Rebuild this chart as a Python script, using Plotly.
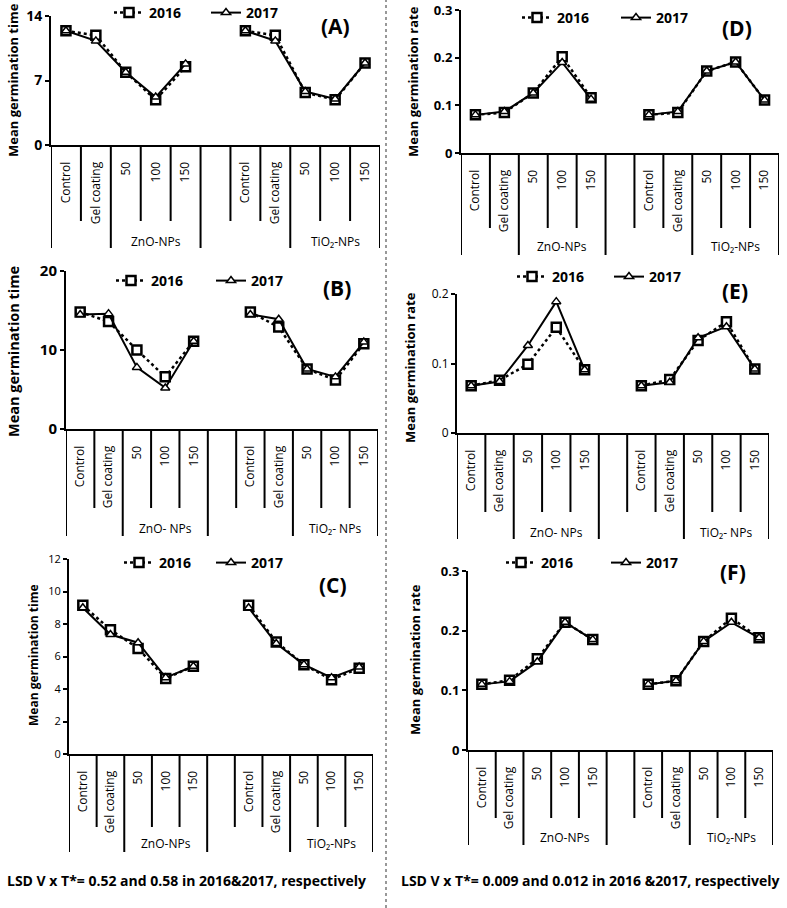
import plotly.graph_objects as go

W, H = 787, 908

# ---------------- data ----------------
CATS = ["Control", "Gel coating", "50", "100", "150", "",
        "Control", "Gel coating", "50", "100", "150"]
X = list(range(len(CATS)))

A_2016 = [12.4, 11.9, 7.9, 4.9, 8.5, None, 12.4, 11.9, 5.7, 4.9, 8.9]
A_2017 = [12.4, 11.3, 7.9, 5.2, 8.8, None, 12.4, 11.3, 5.8, 5.0, 8.9]

B_2016 = [14.8, 13.6, 10.0, 6.6, 11.1, None, 14.8, 12.9, 7.6, 6.2, 10.8]
B_2017 = [14.5, 14.6, 7.8, 5.2, 11.1, None, 14.5, 13.9, 7.6, 6.6, 11.0]

C_2016 = [9.15, 7.65, 6.5, 4.65, 5.4, None, 9.15, 6.9, 5.5, 4.57, 5.28]
C_2017 = [9.0, 7.35, 6.85, 4.7, 5.4, None, 9.0, 6.8, 5.5, 4.7, 5.35]

D_2016 = [0.080, 0.085, 0.126, 0.202, 0.116, None, 0.080, 0.085, 0.172, 0.191, 0.111]
D_2017 = [0.080, 0.087, 0.126, 0.190, 0.113, None, 0.080, 0.087, 0.172, 0.191, 0.111]

E_2016 = [0.068, 0.076, 0.099, 0.152, 0.091, None, 0.068, 0.077, 0.133, 0.160, 0.092]
E_2017 = [0.068, 0.074, 0.126, 0.189, 0.091, None, 0.068, 0.073, 0.137, 0.153, 0.092]

F_2016 = [0.110, 0.117, 0.153, 0.214, 0.185, None, 0.110, 0.116, 0.182, 0.221, 0.188]
F_2017 = [0.110, 0.115, 0.148, 0.214, 0.185, None, 0.110, 0.116, 0.182, 0.214, 0.188]

GROUPS_1 = ["ZnO-NPs", "TiO₂-NPs"]
GROUPS_2 = ["ZnO- NPs", "TiO₂- NPs"]

LSD_LEFT = "LSD V x T*= 0.52 and 0.58 in 2016&2017, respectively"
LSD_RIGHT = "LSD V x T*= 0.009 and 0.012 in 2016 &2017, respectively"

# ---------------- layout helpers ----------------
def P(px):
    return px / W

def Q(py):
    return 1 - py / H

FONT = "Open Sans"

# lt: pixel x where first legend text starts, lsp: spacing between the two legend texts
panels = [
    dict(tag="(A)", d16=A_2016, d17=A_2017, ymax=14, dtick=7, x0=51, x1=380, ytop=16, ybot=145,
         short=221, long=248, gy=242, lt=150, lsp=97, ly=13, lab=(335, 26), tx=13, ty=80,
         tbold=True, tsize=14, ttl="Mean germination time", ttlsize=13, groups=GROUPS_1),
    dict(tag="(B)", d16=B_2016, d17=B_2017, ymax=20, dtick=10, x0=66, x1=378, ytop=271, ybot=429,
         short=508, long=536, gy=528, lt=152, lsp=100, ly=281, lab=(337, 288), tx=13, ty=352,
         tbold=True, tsize=15, ttl="Mean germination time", ttlsize=14.5, groups=GROUPS_2),
    dict(tag="(C)", d16=C_2016, d17=C_2017, ymax=12, dtick=2, x0=69, x1=373, ytop=559, ybot=754,
         short=827, long=852, gy=843, lt=160, lsp=92, ly=563, lab=(333, 585), tx=33, ty=655,
         tbold=False, tsize=11, ttl="Mean germination time", ttlsize=12, groups=GROUPS_1),
    dict(tag="(D)", d16=D_2016, d17=D_2017, ymax=0.3, dtick=0.1, x0=461, x1=779, ytop=10, ybot=153,
         short=228, long=255, gy=247, lt=558, lsp=99, ly=18, lab=(737, 28), tx=413, ty=82,
         tbold=True, tsize=13, ttl="Mean germination rate", ttlsize=13, groups=GROUPS_1),
    dict(tag="(E)", d16=E_2016, d17=E_2017, ymax=0.2, dtick=0.1, x0=457, x1=769, ytop=294, ybot=433,
         short=512, long=539, gy=532, lt=553, lsp=97, ly=277, lab=(735, 291), tx=410, ty=368,
         tbold=False, tsize=12, ttl="Mean germination rate", ttlsize=13, groups=GROUPS_2),
    dict(tag="(F)", d16=F_2016, d17=F_2017, ymax=0.3, dtick=0.1, x0=468, x1=773, ytop=571, ybot=750,
         short=818, long=845, gy=837, lt=542, lsp=105, ly=563, lab=(733, 572), tx=415, ty=660,
         tbold=True, tsize=13, ttl="Mean germination rate", ttlsize=13, groups=GROUPS_1),
]

fig = go.Figure()
layout = dict(width=W, height=H, margin=dict(l=0, r=0, t=0, b=0, autoexpand=False),
              paper_bgcolor="white", plot_bgcolor="white",
              font=dict(family=FONT, color="black"), showlegend=True)
shapes, annotations = [], []

LONG_B = [-0.5, 1.5, 4.5, 7.5, 10.5]
SHORT_B = [0.5, 2.5, 3.5, 5.5, 6.5, 8.5, 9.5]


def note(text, x, y, size, angle=0, xref="paper"):
    return dict(text=text, xref=xref, yref="paper", x=x, y=y, showarrow=False,
                xanchor="center", yanchor="middle", textangle=angle,
                font=dict(size=size, family=FONT, color="black"))


for i, p in enumerate(panels, start=1):
    xa = "x" if i == 1 else f"x{i}"
    ya = "y" if i == 1 else f"y{i}"
    lg = "legend" if i == 1 else f"legend{i}"
    fig.add_trace(go.Scatter(
        x=X, y=p["d16"], xaxis=xa, yaxis=ya, legend=lg, name="<b>2016</b>",
        mode="lines+markers", line=dict(color="black", width=2.5, dash="dot"),
        marker=dict(symbol="square", size=9, color="white", line=dict(color="black", width=2.5)),
        connectgaps=False))
    fig.add_trace(go.Scatter(
        x=X, y=p["d17"], xaxis=xa, yaxis=ya, legend=lg, name="<b>2017</b>",
        mode="lines+markers", line=dict(color="black", width=2),
        marker=dict(symbol="triangle-up", size=8, color="white", line=dict(color="black", width=1.5)),
        connectgaps=False))

    xk = "xaxis" if i == 1 else f"xaxis{i}"
    yk = "yaxis" if i == 1 else f"yaxis{i}"
    layout[xk] = dict(domain=[P(p["x0"]), P(p["x1"])], range=[-0.5, 10.5], anchor=ya,
                      tickmode="array", tickvals=X, ticktext=CATS, tickangle=-90,
                      ticks="", showline=True, linecolor="black", linewidth=2,
                      showgrid=False, zeroline=False, ticklabelstandoff=10,
                      automargin=False,
                      tickfont=dict(size=12, family=FONT, color="black"))
    layout[yk] = dict(domain=[Q(p["ybot"]), Q(p["ytop"])], range=[0, p["ymax"]], anchor=xa,
                      dtick=p["dtick"], tick0=0, ticks="outside", ticklen=4, tickwidth=1.5,
                      tickcolor="black", showline=True, linecolor="black", linewidth=2,
                      showgrid=False, zeroline=False, automargin=False,
                      tickfont=dict(size=p["tsize"], family=FONT, color="black",
                                    weight="bold" if p["tbold"] else "normal"))
    layout[lg] = dict(orientation="h", x=P(p["lt"] - 41), y=Q(p["ly"]),
                      xanchor="left", yanchor="middle",
                      bgcolor="rgba(0,0,0,0)", font=dict(size=14, family=FONT, color="black"),
                      itemwidth=30, entrywidthmode="pixels", entrywidth=p["lsp"] - 45)

    # category separators
    for b in LONG_B + SHORT_B:
        end = p["long"] if b in LONG_B else p["short"]
        shapes.append(dict(type="line", xref=xa, yref="paper", x0=b, x1=b,
                           y0=Q(p["ybot"]), y1=Q(end), line=dict(color="black", width=2)))
    # group labels
    for gx, gname in zip([3, 9], p["groups"]):
        annotations.append(note(gname, gx, Q(p["gy"]), 12, xref=xa))
    # panel tag
    annotations.append(note(f"<b>{p['tag']}</b>", P(p["lab"][0]), Q(p["lab"][1]), 21))
    # y title
    annotations.append(note(f"<b>{p['ttl']}</b>", P(p["tx"]), Q(p["ty"]), p["ttlsize"], angle=-90))

annotations.append(note(f"<b>{LSD_LEFT}</b>", P(186), Q(880), 14))
annotations.append(note(f"<b>{LSD_RIGHT}</b>", P(590), Q(880), 14))

shapes.append(dict(type="line", xref="paper", yref="paper", x0=P(386), x1=P(386), y0=0, y1=1,
                   line=dict(color="#777777", width=1.5, dash="dot")))

layout["shapes"] = shapes
layout["annotations"] = annotations
fig.update_layout(**layout)
fig.write_html("out.html", config={"displayModeBar": False},
               post_script="document.body.style.margin='0';document.body.style.overflow='hidden';")
